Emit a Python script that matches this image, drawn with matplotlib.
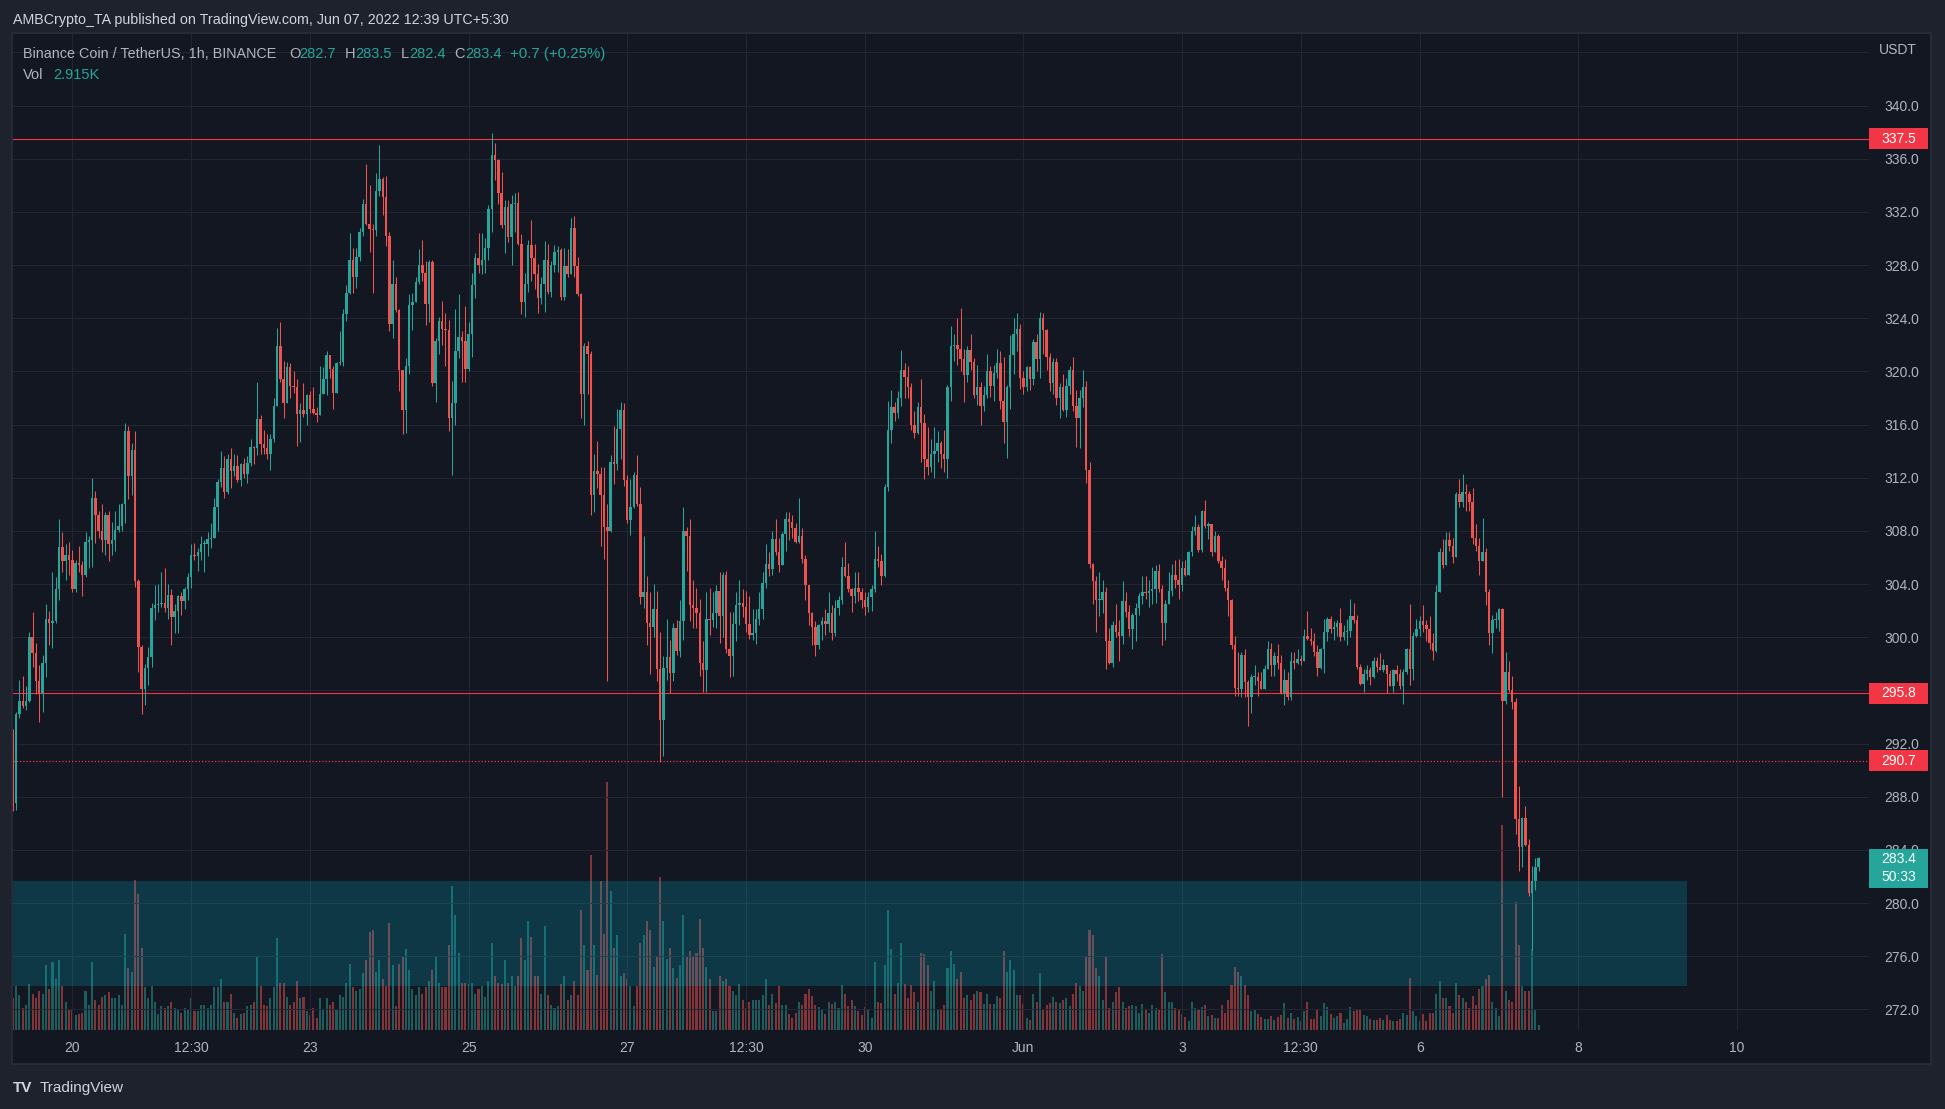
import matplotlib
matplotlib.use('Agg')
import matplotlib.pyplot as plt
from matplotlib.patches import Rectangle
from matplotlib.transforms import blended_transform_factory
import numpy as np

# ---------------- data (BNB/USDT, 1h candles) ----------------
first_hour = -18          # hours relative to "20" (May 20 00:30)
open0 = 290.9

closes = [
    287.5, 294.2, 295.2, 294.8, 295.2, 300.0, 298.8, 296.7, 295.7, 298.1, 301.4, 301.1, 301.2, 303.6, 306.8, 305.7, 306.2, 305.8,
    303.6, 305.6, 305.4, 304.7, 307.2, 307.3, 310.5, 309.2, 308.0, 307.3, 309.2, 307.0, 307.3, 308.1, 308.4, 310.0, 315.5, 312.1, 314.1, 304.2, 299.3, 296.1, 297.7, 298.5,
    302.2, 302.4, 302.5, 302.6, 302.2, 303.2, 301.5, 302.0, 303.1, 302.7, 303.6, 304.5, 306.2, 306.1, 306.4, 307.0, 307.0, 307.4, 307.5, 309.8, 311.7, 312.7, 310.9, 313.4,
    312.5, 312.9, 311.8, 313.0, 312.3, 313.1, 314.3, 314.2, 316.4, 314.5, 314.2, 313.8, 314.9, 317.4, 321.9, 319.4, 317.6, 320.3, 318.9, 318.8, 316.8, 317.1, 316.8, 318.2,
    317.2, 316.9, 316.7, 318.3, 319.4, 321.2, 320.2, 318.4, 320.6, 320.7, 324.3, 325.9, 328.4, 327.1, 328.6, 330.5, 332.6, 331.1, 330.7, 330.6, 333.6, 334.5, 333.1, 330.2,
    323.6, 326.6, 324.6, 320.1, 317.1, 320.4, 325.0, 325.2, 326.7, 328.0, 327.4, 325.1, 328.2, 319.1, 322.3, 323.8, 323.2, 323.1, 316.5, 317.6, 321.5, 322.6, 322.3, 320.2,
    322.8, 326.5, 328.5, 328.0, 328.4, 329.3, 332.2, 336.3, 335.9, 333.4, 331.0, 332.4, 330.1, 332.6, 332.7, 329.6, 325.2, 326.6, 329.5, 328.5, 327.3, 325.5, 326.6, 328.4,
    326.0, 328.0, 329.0, 329.1, 325.6, 327.9, 327.3, 330.8, 327.9, 325.8, 318.3, 321.9, 321.3, 310.7, 312.5, 312.3, 310.7, 308.3, 308.0, 313.2, 313.0, 315.7, 317.1, 311.8,
    308.8, 309.8, 312.2, 310.0, 303.0, 303.4, 301.1, 300.8, 302.1, 297.6, 293.8, 297.7, 298.5, 297.3, 300.7, 299.0, 301.2, 308.0, 307.6, 302.4, 302.2, 301.8, 298.1, 297.5,
    301.4, 301.3, 301.8, 303.5, 301.6, 304.7, 299.1, 298.6, 301.0, 302.4, 302.6, 302.3, 301.0, 300.2, 300.3, 301.4, 302.1, 304.1, 305.5, 305.1, 307.4, 306.4, 305.4, 307.8,
    308.9, 308.7, 308.2, 307.2, 307.6, 305.9, 303.9, 301.8, 300.8, 299.4, 300.9, 301.2, 301.0, 301.8, 300.3, 302.2, 302.8, 305.3, 304.6, 303.6, 303.1, 303.7, 303.4, 302.8,
    302.3, 303.0, 303.6, 305.9, 305.7, 304.6, 311.3, 315.6, 317.3, 316.9, 318.0, 320.1, 319.6, 318.8, 316.0, 315.4, 317.3, 316.1, 313.4, 312.8, 313.8, 314.0, 314.6, 313.8,
    313.4, 318.8, 321.9, 322.0, 321.7, 320.9, 319.7, 321.6, 320.7, 318.2, 318.8, 317.4, 318.2, 320.0, 318.9, 319.9, 320.6, 317.8, 316.2, 318.8, 321.2, 322.8, 323.2, 319.5,
    318.8, 320.3, 319.4, 322.2, 320.9, 324.0, 323.1, 321.1, 319.1, 320.7, 318.0, 318.8, 317.1, 318.9, 320.1, 317.4, 316.5, 318.0, 318.8, 312.6, 305.5, 304.2, 302.8, 302.8,
    303.4, 299.7, 298.1, 300.9, 300.4, 300.1, 302.7, 301.9, 300.6, 301.7, 302.2, 303.1, 303.4, 303.3, 303.5, 303.6, 305.0, 303.6, 301.1, 302.5, 303.5, 304.7, 304.3, 303.9,
    305.2, 304.7, 306.4, 308.0, 308.3, 306.6, 309.5, 308.4, 308.5, 306.4, 307.6, 305.7, 305.2, 303.7, 302.8, 299.4, 296.2, 296.1, 298.7, 296.6, 295.5, 297.0, 297.0, 296.7,
    296.1, 297.6, 299.1, 297.9, 298.6, 298.1, 295.8, 296.8, 295.5, 298.2, 298.1, 298.4, 298.2, 300.1, 299.9, 299.7, 298.9, 297.7, 299.1, 300.4, 301.4, 300.6, 300.8, 301.1,
    300.0, 300.4, 300.5, 301.6, 301.3, 297.8, 296.5, 297.2, 297.5, 297.0, 298.2, 297.8, 297.5, 297.9, 297.2, 296.3, 297.5, 297.2, 296.3, 297.4, 299.1, 297.6, 300.1, 300.6,
    301.2, 300.9, 300.6, 299.6, 299.0, 303.4, 306.4, 305.4, 307.3, 306.9, 306.0, 310.8, 310.2, 310.9, 310.8, 310.2, 307.5, 306.9, 305.7, 306.4, 303.4, 300.3, 301.3, 301.3,
    302.1, 295.2, 297.4, 296.0, 295.1, 286.3, 284.2, 286.4, 284.4, 280.8, 281.7, 282.7, 283.4,
]

highs = [
    293.1, 294.4, 296.8, 297.1, 296.3, 300.4, 301.9, 299.6, 297.9, 298.7, 302.5, 302.0, 304.9, 304.5, 308.9, 307.9, 307.0, 307.2,
    306.6, 305.8, 306.9, 305.7, 307.9, 307.6, 312.0, 311.0, 309.5, 310.0, 309.4, 309.5, 308.7, 309.5, 310.0, 310.1, 316.1, 315.9, 314.6, 315.5, 304.4, 299.4, 298.0, 299.3,
    302.6, 303.9, 304.0, 304.9, 305.2, 304.0, 303.6, 302.5, 303.2, 303.4, 303.8, 304.8, 307.0, 307.1, 306.7, 307.6, 307.3, 307.9, 308.6, 310.5, 311.9, 314.0, 313.6, 313.8,
    314.2, 313.8, 313.7, 313.1, 313.5, 313.6, 314.9, 314.4, 319.2, 316.7, 315.6, 315.3, 315.3, 318.0, 323.3, 323.7, 320.8, 320.7, 320.6, 320.0, 319.4, 317.6, 319.1, 318.3,
    318.5, 318.8, 317.3, 320.4, 320.3, 321.5, 321.2, 320.4, 320.7, 323.0, 324.7, 326.5, 330.4, 329.3, 329.3, 330.8, 333.0, 335.6, 334.0, 331.1, 334.9, 337.0, 334.6, 334.7,
    330.5, 328.4, 327.1, 324.7, 320.1, 321.0, 325.8, 325.9, 327.1, 329.2, 329.9, 328.3, 328.4, 328.4, 322.5, 324.1, 325.3, 324.4, 323.9, 319.3, 324.7, 325.8, 323.0, 324.9,
    323.7, 327.4, 328.9, 330.4, 330.4, 330.0, 332.5, 337.9, 337.2, 336.0, 335.0, 332.9, 332.9, 333.3, 333.4, 333.5, 330.3, 327.4, 329.9, 331.4, 329.6, 328.1, 327.1, 329.8,
    329.6, 328.3, 329.5, 329.4, 329.3, 329.3, 329.2, 331.5, 331.7, 328.6, 325.9, 322.1, 322.3, 321.5, 313.8, 314.8, 312.8, 312.8, 310.0, 313.7, 315.9, 317.2, 317.7, 317.6,
    312.2, 311.9, 312.4, 313.7, 311.3, 307.6, 304.6, 303.4, 304.0, 303.5, 300.4, 298.6, 301.4, 299.8, 301.1, 301.3, 302.8, 309.8, 308.3, 308.9, 304.3, 303.7, 302.9, 299.7,
    303.4, 303.7, 303.4, 303.9, 304.9, 304.9, 305.0, 301.9, 301.9, 303.4, 304.3, 303.6, 303.5, 303.1, 302.1, 302.1, 303.4, 304.9, 307.0, 306.4, 308.0, 308.9, 307.5, 307.9,
    309.4, 309.4, 309.2, 308.6, 310.5, 308.2, 306.2, 303.9, 301.9, 301.2, 301.0, 301.5, 302.1, 303.4, 302.4, 302.8, 303.1, 306.0, 307.2, 305.6, 303.7, 304.9, 304.9, 303.7,
    303.4, 303.4, 303.9, 308.0, 306.9, 306.3, 311.5, 317.8, 318.6, 317.7, 318.5, 321.6, 320.6, 320.4, 319.1, 317.0, 317.7, 319.4, 316.8, 315.8, 314.9, 315.8, 315.5, 314.8,
    315.6, 319.0, 323.4, 322.8, 324.0, 324.8, 321.7, 321.9, 322.8, 321.0, 320.5, 319.2, 318.9, 321.3, 320.4, 320.5, 321.7, 321.5, 321.1, 319.0, 322.7, 324.0, 324.4, 323.6,
    320.0, 320.4, 320.4, 322.4, 322.8, 324.5, 324.4, 323.2, 321.4, 321.0, 321.0, 319.1, 319.8, 319.5, 320.4, 321.1, 318.6, 318.6, 320.1, 319.3, 313.2, 305.6, 304.6, 304.9,
    304.3, 303.8, 300.7, 301.2, 302.5, 301.3, 304.2, 303.4, 302.4, 301.8, 302.6, 303.3, 304.6, 304.6, 304.3, 305.3, 305.4, 305.5, 303.9, 302.8, 304.9, 305.5, 305.8, 305.9,
    305.7, 305.8, 306.5, 308.4, 309.2, 308.5, 309.6, 310.3, 308.7, 308.5, 308.0, 307.8, 306.1, 305.9, 304.3, 302.9, 300.1, 298.9, 298.9, 299.1, 296.8, 297.2, 297.9, 297.4,
    297.4, 297.9, 299.7, 299.6, 298.9, 299.5, 298.7, 297.6, 297.4, 298.9, 298.9, 299.1, 298.7, 300.6, 302.0, 300.7, 300.3, 299.4, 299.2, 301.4, 301.5, 301.6, 301.2, 301.3,
    302.2, 300.9, 301.4, 302.9, 302.6, 301.7, 298.0, 297.6, 297.9, 297.8, 298.5, 298.5, 298.8, 298.4, 297.9, 297.5, 297.6, 297.9, 297.6, 297.6, 299.2, 302.5, 300.4, 301.4,
    301.6, 302.4, 301.3, 301.6, 300.3, 303.9, 306.7, 307.4, 307.9, 307.9, 307.5, 310.9, 311.9, 312.3, 311.5, 311.0, 311.2, 308.5, 307.5, 309.0, 306.7, 303.6, 301.7, 301.9,
    302.2, 302.2, 298.9, 298.2, 297.1, 295.4, 288.8, 286.5, 287.3, 284.8, 282.8, 283.4, 283.5,
]

lows = [
    286.9, 287.0, 293.9, 294.7, 294.5, 295.1, 297.8, 295.7, 293.6, 294.4, 297.0, 299.4, 299.2, 301.1, 302.8, 304.9, 304.3, 304.7,
    303.4, 303.4, 304.9, 303.1, 304.5, 305.2, 305.3, 307.1, 307.5, 306.4, 306.2, 305.7, 306.2, 306.5, 307.9, 308.0, 308.6, 310.4, 310.7, 303.8, 297.4, 294.2, 294.9, 296.4,
    297.8, 301.3, 301.9, 302.3, 301.9, 301.4, 299.4, 300.3, 300.3, 301.7, 302.1, 302.8, 303.7, 305.8, 305.0, 305.8, 304.9, 306.1, 306.7, 307.5, 308.0, 311.3, 310.5, 310.8,
    311.2, 312.1, 311.7, 311.4, 312.0, 311.6, 312.9, 313.0, 313.7, 313.8, 313.8, 313.4, 312.6, 314.7, 317.4, 319.2, 316.5, 317.6, 318.0, 318.4, 314.4, 314.7, 316.6, 316.0,
    316.9, 316.8, 316.2, 316.7, 318.3, 318.2, 319.5, 317.2, 318.4, 320.5, 320.4, 323.8, 325.8, 325.9, 326.3, 328.3, 330.2, 331.0, 329.0, 325.9, 330.2, 333.2, 331.8, 329.4,
    323.0, 322.5, 324.5, 318.5, 315.3, 315.4, 319.8, 323.1, 325.2, 326.6, 326.8, 323.5, 323.7, 318.9, 317.7, 321.3, 322.0, 320.4, 315.5, 312.2, 316.0, 321.0, 319.2, 319.2,
    320.0, 321.1, 325.5, 327.4, 327.3, 327.4, 328.4, 330.5, 334.4, 332.6, 330.8, 328.9, 329.7, 328.0, 330.5, 329.5, 324.3, 324.1, 326.0, 326.8, 326.2, 324.4, 325.1, 324.5,
    325.8, 325.6, 327.5, 327.5, 325.4, 325.4, 327.1, 327.3, 327.1, 325.7, 316.5, 316.0, 318.3, 309.2, 309.4, 311.2, 306.9, 305.9, 296.7, 307.9, 311.5, 312.6, 313.4, 311.4,
    308.6, 307.7, 309.7, 309.9, 302.5, 302.2, 299.4, 297.2, 300.0, 296.7, 290.6, 291.1, 296.8, 295.8, 296.7, 298.7, 298.5, 299.8, 305.0, 301.2, 300.7, 300.7, 297.1, 295.9,
    295.9, 300.2, 300.8, 300.7, 299.6, 300.0, 298.8, 297.0, 297.1, 299.7, 300.9, 301.5, 300.4, 299.9, 299.8, 299.5, 300.9, 301.4, 303.7, 304.6, 304.7, 306.2, 304.9, 305.4,
    306.5, 307.3, 307.5, 307.1, 307.1, 305.6, 302.8, 300.9, 299.4, 298.6, 299.1, 299.8, 300.2, 300.4, 299.8, 300.1, 301.7, 302.5, 304.5, 303.4, 301.9, 302.6, 302.7, 302.2,
    301.7, 301.9, 302.0, 303.4, 305.3, 303.9, 304.5, 311.0, 314.6, 316.3, 316.5, 317.4, 318.0, 318.0, 315.6, 315.0, 315.3, 313.2, 311.9, 312.2, 312.4, 312.0, 313.2, 312.7,
    312.4, 312.0, 317.8, 320.8, 320.5, 320.0, 317.7, 319.2, 320.1, 318.0, 317.5, 316.0, 317.0, 318.0, 318.1, 317.8, 319.5, 317.2, 314.6, 313.5, 317.2, 319.8, 321.5, 318.7,
    318.3, 318.5, 318.6, 319.0, 320.0, 319.5, 321.3, 320.1, 318.5, 318.3, 317.5, 316.5, 317.0, 316.6, 318.3, 317.0, 314.3, 314.2, 317.3, 311.6, 305.2, 302.5, 300.4, 301.6,
    301.8, 297.6, 298.0, 297.8, 300.0, 298.2, 299.5, 301.5, 300.1, 299.1, 299.7, 301.7, 302.5, 302.9, 302.3, 302.5, 302.6, 303.4, 299.4, 299.8, 302.5, 303.1, 303.7, 302.9,
    303.5, 304.6, 304.7, 306.1, 307.7, 306.4, 306.4, 308.2, 307.4, 306.1, 306.4, 305.6, 304.3, 303.5, 301.6, 299.1, 295.6, 295.6, 295.5, 295.5, 293.3, 294.3, 296.4, 295.6,
    296.1, 296.1, 297.6, 297.1, 297.1, 297.6, 295.7, 294.9, 295.3, 295.3, 297.6, 298.0, 297.9, 298.2, 299.8, 299.4, 298.6, 297.1, 297.6, 297.3, 299.7, 300.3, 299.8, 300.1,
    299.7, 299.8, 299.4, 300.0, 301.1, 297.6, 296.4, 295.9, 296.8, 296.4, 296.9, 297.4, 297.5, 297.4, 295.8, 296.3, 295.9, 296.7, 296.1, 295.0, 297.2, 296.4, 296.8, 300.0,
    300.1, 300.4, 299.7, 299.1, 298.3, 298.9, 303.4, 305.2, 305.4, 306.5, 305.6, 306.0, 309.8, 309.8, 309.5, 309.5, 307.0, 306.5, 304.7, 305.7, 302.4, 299.4, 298.8, 300.7,
    300.5, 288.0, 295.0, 295.9, 294.6, 285.2, 282.4, 282.7, 284.3, 280.5, 276.5, 281.0, 282.4,
]

# volume in thousands of BNB
volumes = [
    20,
    28, 22, 14, 16, 29, 23, 20, 25, 23, 41, 26, 43, 32, 44, 28, 18, 13, 13, 9.5, 10,
    11, 25, 16, 43, 19, 16, 21, 22, 24, 20, 20, 22, 16, 61, 39, 37, 95, 86, 52, 27,
    20, 28, 18, 10, 15, 14, 15, 18, 14, 13, 11, 14, 13, 20, 12, 12, 16, 16, 14, 16,
    27, 27, 32, 18, 18, 23, 11, 7.6, 10, 11, 15, 16, 18, 47, 28, 16, 15, 20, 27, 58,
    30, 30, 21, 16, 18, 31, 20, 21, 12, 9.5, 14, 7.6, 20, 13, 20, 16, 18, 13, 22, 21,
    30, 42, 27, 25, 26, 36, 44, 62, 63, 37, 44, 32, 28, 68, 41, 15, 42, 47, 51, 38,
    26, 22, 27, 23, 27, 31, 38, 46, 30, 27, 27, 54, 91, 73, 49, 30, 30, 29, 30, 23,
    26, 28, 21, 31, 55, 34, 30, 29, 44, 30, 34, 28, 34, 58, 44, 69, 59, 34, 34, 23,
    66, 22, 16, 14, 15, 29, 34, 19, 22, 31, 22, 76, 54, 38, 111, 54, 35, 94, 61, 157,
    88, 52, 60, 34, 36, 32, 28, 15, 28, 55, 60, 69, 63, 40, 46, 97, 69, 45, 52, 39,
    33, 41, 73, 47, 50, 47, 49, 70, 52, 40, 32, 12, 12, 34, 31, 32, 28, 25, 22, 29,
    19, 14, 18, 19, 19, 19, 22, 32, 16, 23, 17, 28, 16, 16, 10, 7.6, 11, 18, 16, 23, 26,
    21.5, 16, 14.5, 12.7, 10, 18, 16.5, 18, 14, 28.5,
    23, 15, 19, 15, 12, 9.5, 14.5, 13, 7.6, 43,
    17.7, 17, 41, 76, 51, 23, 30, 55, 29, 20,
    28.5, 24, 18, 49, 48, 41, 25, 31, 12.7, 12.7,
    16, 39, 50, 42, 32, 37, 20, 22, 19, 23,
    25, 24, 16.5, 23, 16.5, 16.5, 21.5, 20, 50, 37,
    44, 38, 22, 22, 16.5, 7.6, 6.3, 23, 17.7, 36,
    13, 16, 17, 21, 18, 17, 19, 20, 15, 23,
    30, 28, 25, 47, 63, 60, 39, 34, 19, 46,
    14, 18, 24, 27, 18, 14, 15, 16, 15, 11,
    16.5, 13, 11, 16, 14, 13, 48, 24, 17.7, 18,
    14, 12.7, 10, 8.2, 5.7, 18, 14, 13, 14.5, 16,
    8.9, 9.5, 7.6, 7.6, 16, 11, 19, 28.5, 40, 37,
    34, 28.5, 22, 12, 13, 10, 8.2, 7, 7, 8.9,
    6.3, 8.2, 9.5, 17, 7.6, 11, 7, 8.2, 5.7, 12,
    17.7, 7, 7, 13, 8.9, 17, 14.5, 10, 7.6, 8.9,
    11, 4.4, 7, 14.5, 12, 12.7, 12.7, 9.5, 8.9, 7,
    6.3, 6.3, 7.6, 6.3, 9.5, 6.3, 5.7, 5.7, 7, 11,
    9.5, 33, 12, 8.9, 5.7, 10, 5.7, 11, 11, 23,
    31, 20, 20, 15, 11, 30, 22, 20, 17.7, 14,
    21.5, 16, 26, 28, 32, 35, 17.7, 14, 8.9, 130,
    25, 19, 17.7, 81, 54, 28, 25, 25, 51, 13, 2.915,
]

x_tick_hours = [0, 36, 72, 120, 168, 204, 240, 288, 336, 372, 408, 456, 504]
x_tick_labels = ['20', '12:30', '23', '25', '27', '12:30', '30', 'Jun', '3', '12:30', '6', '8', '10']
price_ticks = [272, 276, 280, 284, 288, 292, 296, 300, 304, 308, 312, 316, 320, 324, 328, 332, 336, 340, 344]
price_tick_labels = ['272.0', '276.0', '280.0', '284.0', '288.0', '292.0', '296.0', '300.0', '304.0', '308.0',
                     '312.0', '316.0', '320.0', '324.0', '328.0', '332.0', '336.0', '340.0', '']
solid_levels = [337.5, 295.8]
dotted_level = 290.7
zone_low, zone_high = 273.8, 281.7
zone_end_hour = 489
last_price = 283.4
countdown = '50:33'

title_text = 'AMBCrypto_TA published on TradingView.com, Jun 07, 2022 12:39 UTC+5:30'
symbol_text = 'Binance Coin / TetherUS, 1h, BINANCE'
ohlc_labels = ['O', 'H', 'L', 'C']
ohlc_values = ['282.7', '283.5', '282.4', '283.4']
change_text = '+0.7 (+0.25%)'
vol_text = '2.915K'

# ---------------- style ----------------
W, H = 1945, 1109
BG_OUT = '#1e222d'
BG = '#131722'
GRID = '#232632'
TXT = '#b2b5be'
UP = '#26a69a'
DN = '#ef5350'
LEVEL = '#f23645'
FONT = ['Liberation Sans', 'DejaVu Sans']
plt.rcParams['font.family'] = FONT

fig = plt.figure(figsize=(W / 100, H / 100), dpi=100, facecolor=BG_OUT)


def fx(px):
    return px / W


def fy(py):
    return 1 - py / H


# chart panel
fig.patches.append(Rectangle((fx(12), fy(1064)), fx(1931) - fx(12), fy(33) - fy(1064),
                             transform=fig.transFigure, facecolor=BG, edgecolor='#2a2e39',
                             linewidth=1.2, zorder=-5))

PL, PR, PT, PB = 13, 1869, 33, 1030
rect = [fx(PL), fy(PB), fx(PR) - fx(PL), fy(PT) - fy(PB)]
px_per_hour = 3.3026
x_left = (PL - 72.3) / px_per_hour
x_right = (PR - 72.3) / px_per_hour
px_per_usd = 13.294
y_bottom = 340 - (PB - 105.5) / px_per_usd
y_top = 340 - (PT - 105.5) / px_per_usd

ax_vol = fig.add_axes(rect)
ax_vol.set_facecolor(BG)
ax = fig.add_axes(rect)
ax.set_facecolor('none')

n = len(closes)
hours = np.arange(first_hour, first_hour + n)
c = np.array(closes, dtype=float)
o = np.array([open0] + closes[:-1], dtype=float)
hi = np.maximum(np.array(highs, dtype=float), np.maximum(o, c))
lo = np.minimum(np.array(lows, dtype=float), np.minimum(o, c))
up = c >= o
cols = np.where(up, UP, DN)

# volume
vcols = [(0.149, 0.651, 0.604, 0.5) if u else (0.937, 0.325, 0.314, 0.5) for u in up]
ax_vol.bar(hours, volumes, width=0.62, color=vcols, linewidth=0)
ax_vol.set_xlim(x_left, x_right)
ax_vol.set_ylim(0, 997 / 1.58)
ax_vol.axis('off')

# grid
for p in price_ticks:
    ax.axhline(p, color=GRID, linewidth=0.75, zorder=0)
for xh in x_tick_hours:
    ax.axvline(xh, color=GRID, linewidth=0.75, zorder=0)

# zone
ax.add_patch(Rectangle((x_left - 2, zone_low), zone_end_hour - x_left + 2, zone_high - zone_low,
                       facecolor=(0.0, 0.74, 0.86, 0.2), edgecolor='none', zorder=1))

# levels
for lv in solid_levels:
    ax.axhline(lv, color=LEVEL, linewidth=0.8, zorder=2)
ax.axhline(dotted_level, color=LEVEL, linewidth=0.9, linestyle=(0, (1, 1.6)), zorder=2)

# candles
ax.vlines(hours, lo, hi, colors=cols, linewidth=0.75, zorder=3)
body_b = np.minimum(o, c)
body_h = np.maximum(np.abs(c - o), 0.09)
ax.bar(hours, body_h, bottom=body_b, width=0.74, color=cols, linewidth=0, zorder=4)

ax.set_xlim(x_left, x_right)
ax.set_ylim(y_bottom, y_top)
for s in ax.spines.values():
    s.set_visible(False)
ax.yaxis.tick_right()
ax.set_yticks(price_ticks)
ax.set_yticklabels(price_tick_labels)
ax.tick_params(axis='y', length=0, pad=11, labelcolor=TXT, labelsize=10)
ax.set_xticks(x_tick_hours)
ax.set_xticklabels(x_tick_labels)
ax.tick_params(axis='x', length=0, pad=8, labelcolor=TXT, labelsize=10)

# price tags on the axis
bt = blended_transform_factory(ax.transAxes, ax.transData)
tx0 = 1.0
tx1 = (1928 - PL) / (PR - PL)
txc = (tx0 + tx1) / 2


def tag(price, text, color, hpx=21):
    h = hpx / px_per_usd
    ax.add_patch(Rectangle((tx0, price - h / 2), tx1 - tx0, h, transform=bt, facecolor=color,
                           edgecolor='none', clip_on=False, zorder=10))
    ax.text(txc, price, text, transform=bt, color='white', fontsize=10, ha='center',
            va='center', clip_on=False, zorder=11)


for lv in solid_levels + [dotted_level]:
    tag(lv, f'{lv:.1f}', LEVEL)

box_top = last_price + 0.7
box_h = 39 / px_per_usd
ax.add_patch(Rectangle((tx0, box_top - box_h), tx1 - tx0, box_h, transform=bt, facecolor=UP,
                       edgecolor='none', clip_on=False, zorder=10))
ax.text(txc, last_price - 0.05, f'{last_price:.1f}', transform=bt, color='white', fontsize=10,
        ha='center', va='center', clip_on=False, zorder=11)
ax.text(txc, last_price - 1.4, countdown, transform=bt, color='white', fontsize=10,
        ha='center', va='center', clip_on=False, zorder=11)

fig.text(fx(1879), fy(50), 'USDT', color=TXT, fontsize=10, ha='left', va='center')

# header & legend
fig.text(fx(13), fy(20), title_text, color='#d1d4dc', fontsize=10.3, ha='left', va='center')
fig.text(fx(23), fy(54), symbol_text, color=TXT, fontsize=10.4, ha='left', va='center')
lab_x = [289, 345, 401, 454]
val_x = [299, 355, 409, 465]
for lx, vx, lab, val in zip(lab_x, val_x, ohlc_labels, ohlc_values):
    fig.text(fx(lx), fy(54), lab, color=TXT, fontsize=10.5, ha='left', va='center')
    fig.text(fx(vx), fy(54), val, color=UP, fontsize=10.5, ha='left', va='center')
fig.text(fx(510), fy(54), change_text, color=UP, fontsize=10.8, ha='left', va='center')
fig.text(fx(23), fy(75), 'Vol', color=TXT, fontsize=10.5, ha='left', va='center')
fig.text(fx(53), fy(75), vol_text, color=UP, fontsize=10.5, ha='left', va='center')

# footer logo
fig.text(fx(13), fy(1088), 'TV', color='#d1d4dc', fontsize=11, fontweight='bold', ha='left', va='center')
fig.text(fx(40), fy(1088), 'TradingView', color='#d1d4dc', fontsize=11, ha='left', va='center')

fig.savefig('out.png', dpi=100, facecolor=BG_OUT)
